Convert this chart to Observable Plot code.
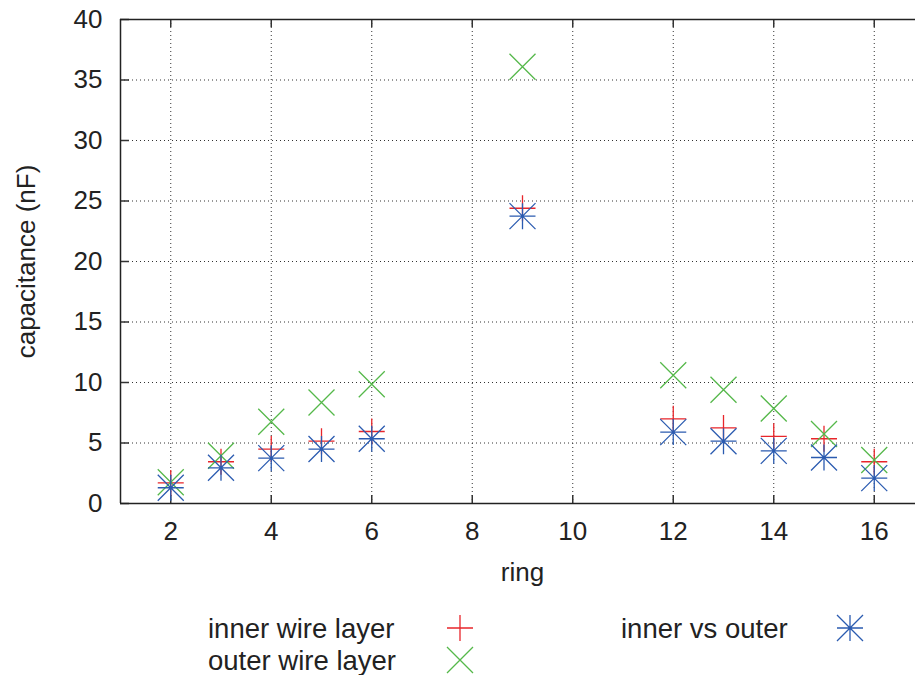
<!DOCTYPE html>
<html><head><meta charset="utf-8">
<script src="https://cdn.jsdelivr.net/npm/d3@7"></script>
<script src="https://cdn.jsdelivr.net/npm/@observablehq/plot@0.6"></script>
<style>
html,body{margin:0;padding:0;background:#fff;overflow:hidden;width:915px;height:675px;}
#chart{position:relative;width:915px;height:675px;overflow:hidden;}
#chart svg{display:block;}
</style></head><body><div id="chart"></div>
<script>
// ---- data ----
const rings        = [2, 3, 4, 5, 6, 9, 12, 13, 14, 15, 16];
const innerLayer   = [1.7, 3.45, 4.5, 5.15, 5.95, 24.4, 7.0, 6.25, 5.55, 5.35, 3.45];
const outerLayer   = [1.75, 3.95, 6.75, 8.35, 9.85, 36.1, 10.6, 9.4, 7.85, 5.75, 3.6];
const innerVsOuter = [1.3, 2.95, 3.75, 4.5, 5.35, 23.75, 5.9, 5.15, 4.35, 3.8, 2.1];
const xTicks = [2, 4, 6, 8, 10, 12, 14, 16];
const yTicks = [0, 5, 10, 15, 20, 25, 30, 35, 40];
const seriesNames = ["inner wire layer", "outer wire layer", "inner vs outer"];
const xLabel = "ring";
const yLabel = "capacitance (nF)";

const colors = ["#e8262b", "#55b84a", "#2b5bb0"];
const font = "'Liberation Sans', Arial, Helvetica, sans-serif";

function makeSymbol(kind) {
  return {
    draw(ctx, size) {
      const s = Math.sqrt(size / Math.PI);
      if (kind !== "x") { ctx.moveTo(-s, 0); ctx.lineTo(s, 0); ctx.moveTo(0, -s); ctx.lineTo(0, s); }
      if (kind !== "+") { ctx.moveTo(-s, -s); ctx.lineTo(s, s); ctx.moveTo(-s, s); ctx.lineTo(s, -s); }
    }
  };
}
const symbols = [makeSymbol("+"), makeSymbol("x"), makeSymbol("*")];

const rows = rings.map((r, i) => ({ring: r, inner: innerLayer[i], outer: outerLayer[i], both: innerVsOuter[i]}));

// The original plot area runs past the right edge of the picture (x = 17 at 924 px).
const W = 915, H = 600, mL = 120, mR = 0, mT = 19, mB = 97;
const fw = W - mL - mR, fh = H - mT - mB;
const gridStyle = {stroke: "#333", strokeWidth: 1, strokeDasharray: "1,3"};
const tickStyle = {stroke: "#333", strokeWidth: 1.5};

const plot = Plot.plot({
  width: W, height: H,
  marginLeft: mL, marginRight: mR, marginTop: mT, marginBottom: mB,
  style: {fontFamily: font, fontSize: "26px", color: "#222", background: "#fff", overflow: "hidden"},
  x: {domain: [1, 17], range: [mL, 924]},
  y: {domain: [0, 40]},
  marks: [
    Plot.ruleX(xTicks, gridStyle),
    Plot.ruleY(yTicks.filter(v => v > 0 && v < 40), gridStyle),
    Plot.ruleX(xTicks, {...tickStyle, insetTop: fh - 8}),
    Plot.ruleX(xTicks, {...tickStyle, insetBottom: fh - 8}),
    Plot.ruleY(yTicks, {...tickStyle, insetRight: fw - 9}),
    Plot.axisX({ticks: xTicks, tickSize: 0, tickPadding: 18, label: null, fill: "#222"}),
    Plot.axisY({ticks: yTicks, tickSize: 0, tickPadding: 18, label: null, fill: "#222"}),
    Plot.dot(rows, {x: "ring", y: "inner", symbol: symbols[0], r: 13, stroke: colors[0], fill: "none", strokeWidth: 1.3}),
    Plot.dot(rows, {x: "ring", y: "outer", symbol: symbols[1], r: 13, stroke: colors[1], fill: "none", strokeWidth: 1.3}),
    Plot.dot(rows, {x: "ring", y: "both", symbol: symbols[2], r: 13, stroke: colors[2], fill: "none", strokeWidth: 1.3}),
    Plot.ruleY([0], {stroke: "#222", strokeWidth: 1.5}),
    Plot.ruleY([40], {stroke: "#222", strokeWidth: 1.5}),
    Plot.ruleX([1], {stroke: "#222", strokeWidth: 1.5}),
    Plot.text([xLabel], {text: d => d, frameAnchor: "bottom", dx: 4.5, dy: 77, textAnchor: "middle", fill: "#222", fontSize: 26}),
    Plot.text([yLabel], {text: d => d, frameAnchor: "left", dx: -94, rotate: -90, textAnchor: "middle", fill: "#222", fontSize: 26})
  ]
});
document.getElementById("chart").appendChild(plot);

// ---- legend below the chart ----
const legendItems = [
  {name: seriesNames[0], tx: 208, sx: 460, cy: 28, i: 0},
  {name: seriesNames[1], tx: 208, sx: 460, cy: 60, i: 1},
  {name: seriesNames[2], tx: 621, sx: 850, cy: 28, i: 2}
];
const leg = d3.select("#chart").append("svg")
  .attr("width", 915).attr("height", 75)
  .style("font-family", font).style("font-size", "27.5px");
const g = leg.selectAll("g").data(legendItems).join("g");
g.append("text").attr("x", d => d.tx).attr("y", d => d.cy).attr("dy", "0.35em")
  .attr("fill", "#222").text(d => d.name);
g.append("path")
  .attr("transform", d => `translate(${d.sx},${d.cy})`)
  .attr("d", d => d3.symbol(symbols[d.i], Math.PI * 13 * 13)())
  .attr("fill", "none").attr("stroke", d => colors[d.i]).attr("stroke-width", 1.3);
</script>
</body></html>
